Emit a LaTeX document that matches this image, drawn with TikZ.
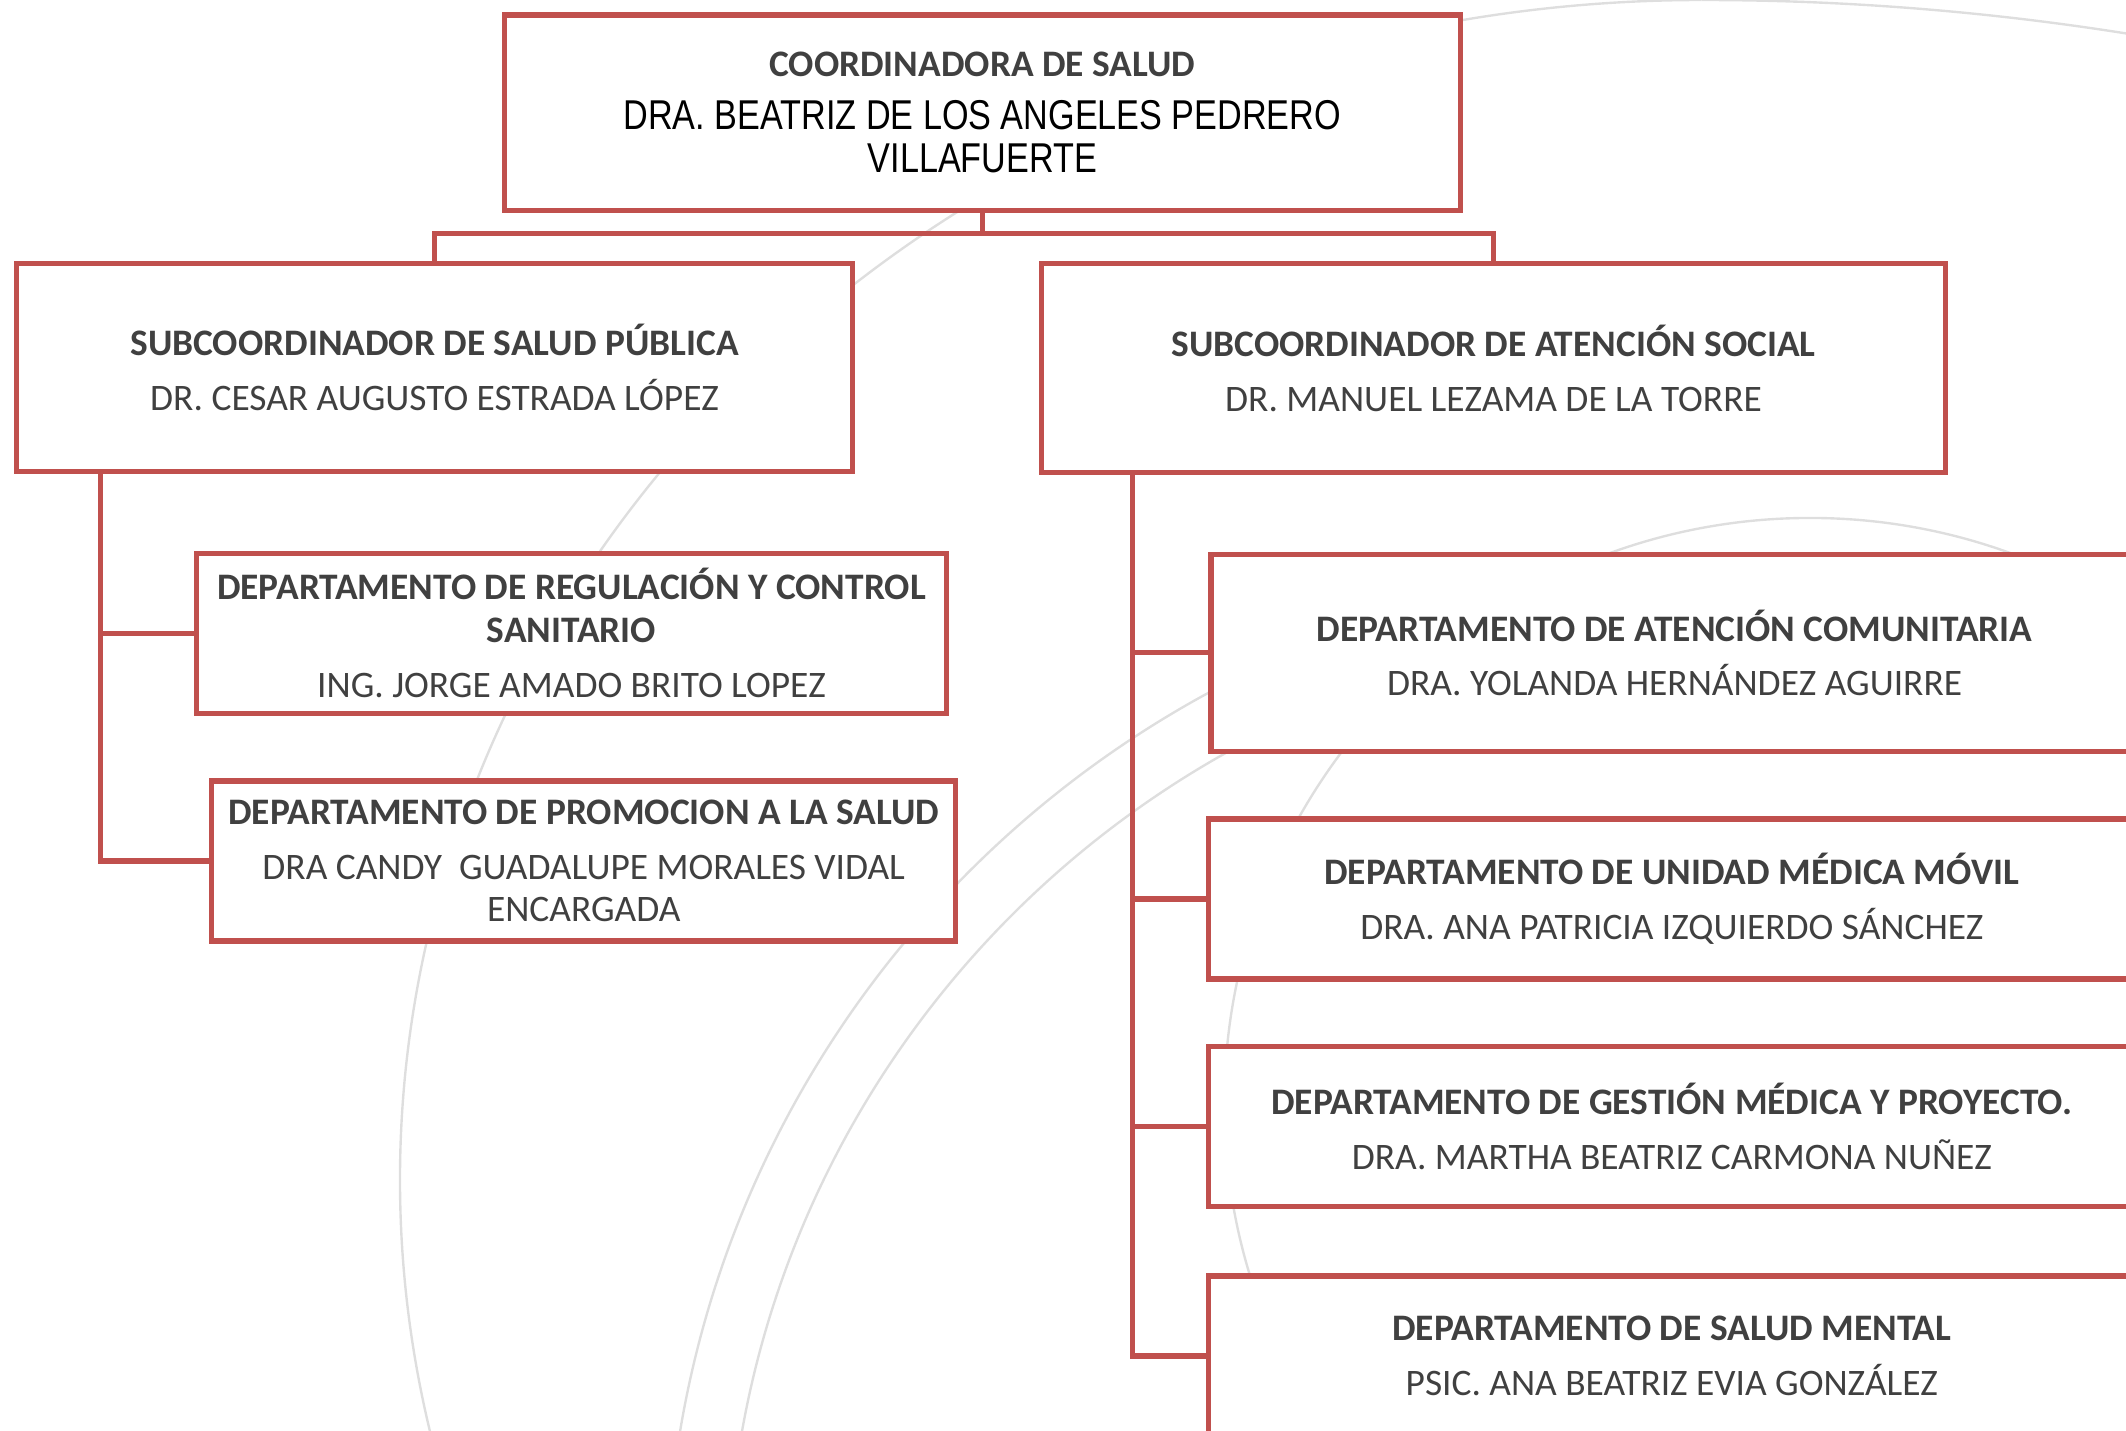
\documentclass[tikz,border=0pt]{standalone}
\usepackage{fontspec}
\setmainfont{Carlito}
\newfontfamily\arialn[FakeStretch=0.82]{Liberation Sans}
\usepackage{tikz}
\usetikzlibrary{positioning, calc}
\definecolor{orgred}{RGB}{192,80,77}
\definecolor{orgtext}{RGB}{64,64,64}
\definecolor{orgarc}{RGB}{222,222,222}

\begin{document}
\begin{tikzpicture}[x=0.02cm,y=-0.02cm,
  box/.style={draw=orgred,line width=2.2pt,fill=white,align=center,text=orgtext,font=\fontsize{15.7}{18}\selectfont},
  link/.style={draw=orgred,line width=2.2pt}]
\useasboundingbox (0,0) rectangle (1568,1055);
\clip (0,0) rectangle (1568,1055);

% Background arcs
\draw[orgarc,line width=1pt] (1255,0) arc [start angle=270,end angle=160,x radius=960,y radius=870];
\draw[orgarc,line width=1pt] (1255,0) arc [start angle=270,end angle=300,radius=2000];
\draw[orgarc,line width=1pt] (1255,1183) circle [radius=764];
\draw[orgarc,line width=1pt] (1255,1183) circle [radius=719];
\draw[orgarc,line width=1pt] (1335,814) circle [radius=432];

% Coordinadora
\node[box,minimum width=14.1cm,minimum height=2.88cm] (coord) at (724.5,83) {\textbf{COORDINADORA DE SALUD}\\[4pt]{\arialn\fontsize{17.5}{17}\selectfont\color{black}DRA. BEATRIZ DE LOS ANGELES PEDRERO}\\{\arialn\fontsize{17.5}{17}\selectfont\color{black}VILLAFUERTE}};

% Subcoordinaciones
\node[box,minimum width=12.34cm,minimum height=3.06cm] (subpub) at (320.5,271) {\textbf{SUBCOORDINADOR DE SALUD PÚBLICA}\\[5pt]DR. CESAR AUGUSTO ESTRADA LÓPEZ};
\node[box,minimum width=13.34cm,minimum height=3.08cm] (subsoc) at (1101.5,271.5) {\textbf{SUBCOORDINADOR DE ATENCIÓN SOCIAL}\\[5pt]DR. MANUEL LEZAMA DE LA TORRE};

% Departamentos salud publica
\node[box,minimum width=11.06cm,minimum height=2.36cm] (regul) at (421.5,467) {\textbf{DEPARTAMENTO DE REGULACIÓN Y CONTROL}\\\textbf{SANITARIO}\\[5pt]ING. JORGE AMADO BRITO LOPEZ};
\node[box,minimum width=10.98cm,minimum height=2.36cm] (promo) at (430.5,635) {\textbf{DEPARTAMENTO DE PROMOCION A LA SALUD}\\[5pt]DRA CANDY\ \ GUADALUPE MORALES VIDAL\\ENCARGADA};

% Departamentos atencion social
\node[box,minimum width=13.68cm,minimum height=2.9cm] (comun) at (1235,481.5) {\textbf{DEPARTAMENTO DE ATENCIÓN COMUNITARIA}\\[5pt]DRA. YOLANDA HERNÁNDEZ AGUIRRE};
\node[box,minimum width=13.68cm,minimum height=2.36cm] (movil) at (1233,663) {\textbf{DEPARTAMENTO DE UNIDAD MÉDICA MÓVIL}\\[5pt]DRA. ANA PATRICIA IZQUIERDO SÁNCHEZ};
\node[box,minimum width=13.68cm,minimum height=2.36cm] (gestion) at (1233,831) {\textbf{DEPARTAMENTO DE GESTIÓN MÉDICA Y PROYECTO.}\\[5pt]DRA. MARTHA BEATRIZ CARMONA NUÑEZ};
\node[box,minimum width=13.68cm,minimum height=2.36cm] (mental) at (1233,1000) {\textbf{DEPARTAMENTO DE SALUD MENTAL}\\[5pt]PSIC. ANA BEATRIZ EVIA GONZÁLEZ};

% Lineas
\coordinate (split) at (724.5,172);
\coordinate (pubtrunk) at (74,348);
\coordinate (soctrunk) at (835,348.5);
\draw[link] (coord.south) -- (split);
\draw[link] (subpub.north) |- (split) -| (subsoc.north);
\draw[link] (pubtrunk) |- (regul.west);
\draw[link] (pubtrunk) |- (promo.west);
\draw[link] (soctrunk) |- (comun.west);
\draw[link] (soctrunk) |- (movil.west);
\draw[link] (soctrunk) |- (gestion.west);
\draw[link] (soctrunk) |- (mental.west);
\end{tikzpicture}
\end{document}
